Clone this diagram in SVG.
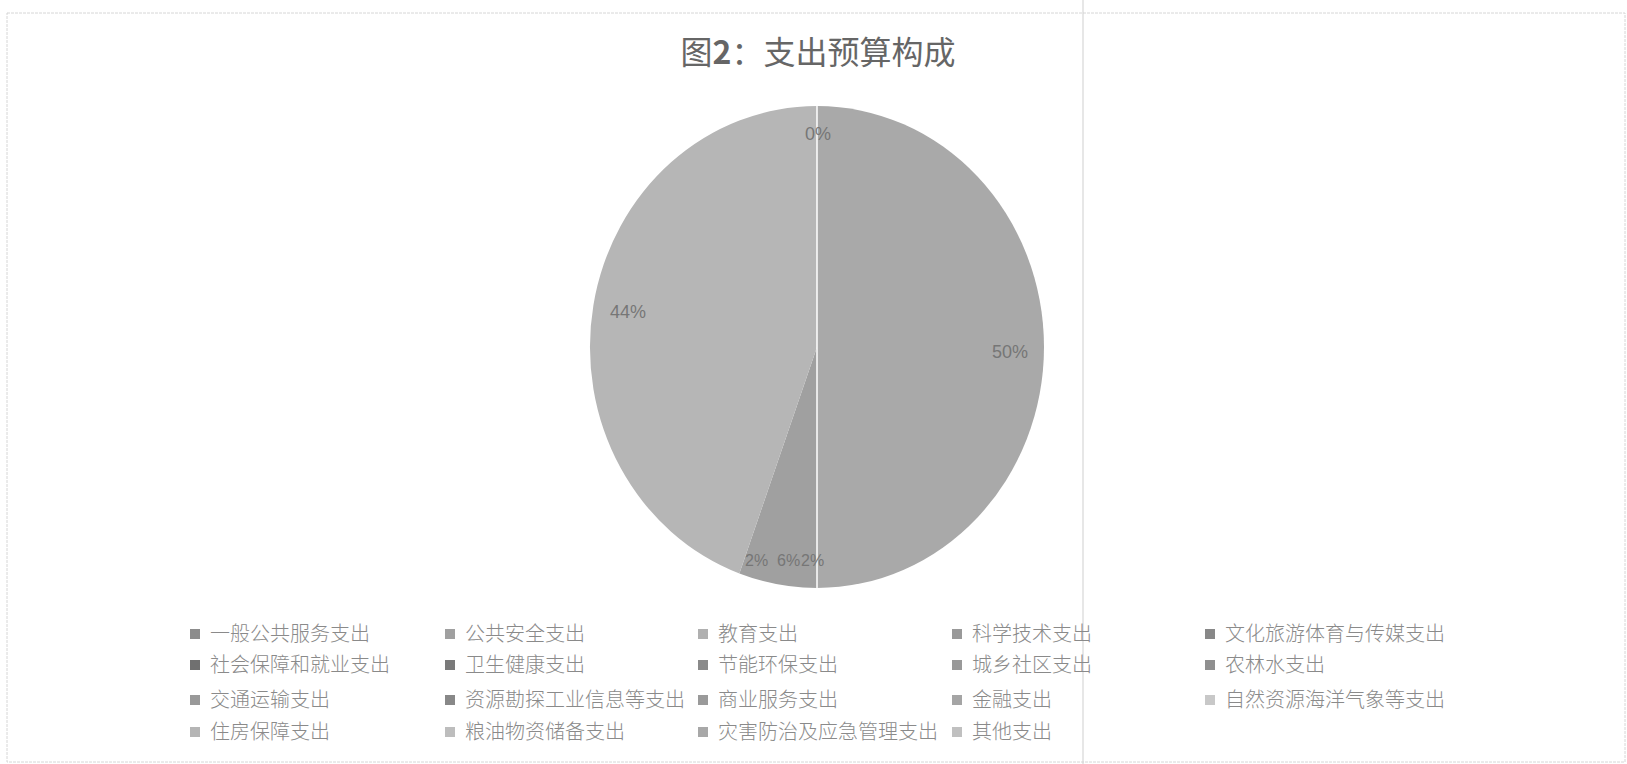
<svg xmlns="http://www.w3.org/2000/svg" width="1627" height="764" viewBox="0 0 1627 764">
<style>
.lg{font-family:"Noto Sans CJK SC","Liberation Sans",sans-serif;font-size:20px;fill:#8a8a8a;font-weight:300}
.pl{font-family:"Liberation Sans",sans-serif;font-size:18px;fill:#767676;text-anchor:middle}
.ps{font-family:"Liberation Sans",sans-serif;font-size:16px;fill:#767676}
.title{font-family:"Noto Sans CJK SC",sans-serif;font-size:32px;fill:#666;text-anchor:middle}
</style>
<rect x="0" y="0" width="1627" height="764" fill="#fff"/>
<rect x="7" y="13" width="1618" height="749" fill="none" stroke="#d6d6d6" stroke-width="1" stroke-dasharray="3 1"/>
<line x1="1083" y1="0" x2="1083" y2="764" stroke="#cfcfcf" stroke-width="1"/>
<g id="title"><text class="title" x="818" y="64">图<tspan font-weight="bold">2</tspan>：支出预算构成</text></g>
<g id="pie">
<path d="M817,347 L817,106 A227,241 0 0 1 817,588 Z" fill="#a9a9a9"/>
<path d="M817,347 L817,588 A227,241 0 0 1 739.4,573.5 Z" fill="#a0a0a0"/>
<path d="M817,347 L739.4,573.5 A227,241 0 0 1 817,106 Z" fill="#b6b6b6"/>
<line x1="817" y1="106" x2="817" y2="588" stroke="#fff" stroke-width="1.5"/>
<text class="pl" x="818" y="140">0%</text>
<text class="pl" x="628" y="318">44%</text>
<text class="pl" x="1010" y="358">50%</text>
<text class="ps" x="745" y="566">2%</text>
<text class="ps" x="777" y="566">6%</text>
<text class="ps" x="801" y="566">2%</text>
</g>
<g id="legend">
<rect x="190" y="629" width="10" height="10" fill="#8c8c8c"/><text class="lg" x="210" y="641">一般公共服务支出</text>
<rect x="445" y="629" width="10" height="10" fill="#a0a0a0"/><text class="lg" x="465" y="641">公共安全支出</text>
<rect x="698" y="629" width="10" height="10" fill="#b0b0b0"/><text class="lg" x="718" y="641">教育支出</text>
<rect x="952" y="629" width="10" height="10" fill="#999"/><text class="lg" x="972" y="641">科学技术支出</text>
<rect x="1205" y="629" width="10" height="10" fill="#888"/><text class="lg" x="1225" y="641">文化旅游体育与传媒支出</text>
<rect x="190" y="660" width="10" height="10" fill="#707070"/><text class="lg" x="210" y="672">社会保障和就业支出</text>
<rect x="445" y="660" width="10" height="10" fill="#7a7a7a"/><text class="lg" x="465" y="672">卫生健康支出</text>
<rect x="698" y="660" width="10" height="10" fill="#8a8a8a"/><text class="lg" x="718" y="672">节能环保支出</text>
<rect x="952" y="660" width="10" height="10" fill="#999"/><text class="lg" x="972" y="672">城乡社区支出</text>
<rect x="1205" y="660" width="10" height="10" fill="#8f8f8f"/><text class="lg" x="1225" y="672">农林水支出</text>
<rect x="190" y="695" width="10" height="10" fill="#999"/><text class="lg" x="210" y="707">交通运输支出</text>
<rect x="445" y="695" width="10" height="10" fill="#888"/><text class="lg" x="465" y="707">资源勘探工业信息等支出</text>
<rect x="698" y="695" width="10" height="10" fill="#9a9a9a"/><text class="lg" x="718" y="707">商业服务支出</text>
<rect x="952" y="695" width="10" height="10" fill="#a5a5a5"/><text class="lg" x="972" y="707">金融支出</text>
<rect x="1205" y="695" width="10" height="10" fill="#c8c8c8"/><text class="lg" x="1225" y="707">自然资源海洋气象等支出</text>
<rect x="190" y="727" width="10" height="10" fill="#b5b5b5"/><text class="lg" x="210" y="739">住房保障支出</text>
<rect x="445" y="727" width="10" height="10" fill="#bdbdbd"/><text class="lg" x="465" y="739">粮油物资储备支出</text>
<rect x="698" y="727" width="10" height="10" fill="#a8a8a8"/><text class="lg" x="718" y="739">灾害防治及应急管理支出</text>
<rect x="952" y="727" width="10" height="10" fill="#c0c0c0"/><text class="lg" x="972" y="739">其他支出</text>
</g>
</svg>
